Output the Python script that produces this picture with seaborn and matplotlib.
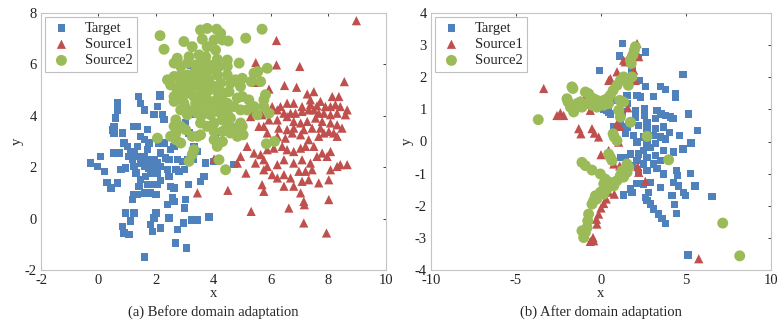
import numpy as np
import pandas as pd
import seaborn as sns
import matplotlib
matplotlib.use("Agg")
import matplotlib.pyplot as plt

# ---- (a) before domain adaptation ----
target_before = [
    (-0.27, 2.16), (0.08, 2.42), (-0.03, 2.03), (0.20, 1.84), (0.29, 1.41), (0.43, 1.19),
    (0.66, 1.39), (0.54, 2.55), (0.54, 3.59), (0.54, 3.33), (0.60, 3.91), (0.66, 4.23),
    (0.66, 4.53), (0.72, 2.55), (0.83, 3.33), (0.89, 2.94), (0.78, 1.90), (0.95, 0.22),
    (0.83, -0.30), (0.89, -0.56), (1.06, -0.62), (1.12, -0.10), (1.24, 0.22), (1.18, 0.74),
    (1.24, 0.93), (1.35, 0.93), (1.41, 1.26), (1.47, 1.51), (1.30, 1.77), (1.24, 2.03),
    (1.18, 2.29), (1.24, 2.55), (1.35, 2.81), (1.24, 3.59), (1.35, 3.59), (1.39, 4.75),
    (1.47, 4.49), (1.61, 4.23), (1.47, 3.20), (1.59, 3.07), (1.70, 3.46), (1.76, 2.94),
    (1.70, 2.68), (1.59, 2.42), (1.70, 2.29), (1.82, 2.16), (1.88, 2.03), (1.93, 2.29),
    (2.00, 2.10), (2.05, 1.97), (1.82, 1.77), (1.64, 1.64), (1.70, 1.32), (1.88, 1.32),
    (1.82, 1.00), (1.70, 1.00), (2.00, 0.93), (1.59, 1.00), (1.93, 4.04), (2.05, 4.36),
    (2.14, 4.75), (2.14, 4.82), (2.22, 4.04), (2.28, 3.85), (2.10, 2.94), (2.28, 2.94),
    (2.16, 2.55), (2.34, 2.36), (2.45, 2.29), (2.51, 2.68), (2.63, 2.81), (2.40, 1.90),
    (2.45, 1.64), (2.16, 1.48), (2.51, 1.26), (2.57, 0.80), (2.63, 0.67), (2.40, 0.54),
    (2.63, 1.19), (2.05, 1.32), (2.00, 0.22), (1.93, 0.03), (1.82, -0.23), (1.88, -0.49),
    (2.16, -0.36), (2.45, 0.03), (2.74, -0.43), (2.68, -0.95), (3.07, -1.14), (1.61, -1.49),
    (2.95, -0.17), (3.23, -0.06), (3.44, -0.06), (3.84, 0.06), (3.03, 0.74), (2.98, 0.41),
    (3.12, 1.32), (2.70, 1.90), (2.80, 1.84), (2.98, 1.90), (2.92, 2.23), (2.74, 2.29),
    (3.09, 2.29), (3.30, 2.29), (3.44, 2.61), (3.32, 2.81), (3.55, 1.45), (3.67, 1.64),
    (3.73, 2.16), (4.02, 2.23), (4.71, 2.10), (2.92, 5.00), (3.20, 5.98), (3.55, 3.97),
    (3.27, 4.04), (3.78, 4.10), (4.07, 3.20), (3.15, 3.33), (2.69, 3.65), (2.63, 3.20),
    (3.32, 3.20), (3.03, 3.72), (1.93, 2.03), (2.05, 2.16), (1.88, 1.90), (1.76, 1.97),
    (2.16, 2.03), (2.05, 1.77), (1.59, 2.03), (1.47, 2.16), (1.35, 2.42), (1.01, 2.81),
    (1.06, 2.42), (1.12, 2.61), (0.95, 1.97), (0.50, 3.45),
]

source1_before = [
    (8.97, 7.70), (6.19, 6.93), (5.47, 6.07), (6.19, 5.98), (7.00, 5.92), (8.55, 5.33),
    (6.47, 5.18), (5.93, 5.04), (6.89, 5.11), (7.26, 4.85), (7.49, 4.94), (7.37, 4.62),
    (8.13, 4.75), (8.36, 4.75), (6.56, 4.49), (6.33, 4.36), (6.04, 4.36), (6.79, 4.49),
    (7.08, 4.36), (7.37, 4.43), (7.60, 4.39), (7.72, 4.56), (7.89, 4.36), (8.07, 4.36),
    (8.24, 4.43), (8.41, 4.36), (8.65, 4.23), (8.59, 4.04), (8.30, 4.10), (8.07, 4.04),
    (7.84, 4.10), (7.66, 4.10), (7.49, 4.23), (7.31, 4.23), (7.08, 4.17), (6.85, 4.10),
    (6.68, 4.10), (6.45, 4.10), (6.22, 4.23), (5.87, 4.17), (5.69, 4.04), (5.41, 4.23),
    (5.29, 3.97), (5.93, 3.84), (6.22, 3.84), (6.56, 3.97), (6.79, 3.78), (7.03, 3.72),
    (7.26, 3.78), (7.55, 3.91), (7.78, 3.78), (8.07, 3.72), (8.30, 3.65), (8.47, 3.52),
    (7.72, 3.52), (7.43, 3.52), (7.14, 3.46), (6.79, 3.52), (6.56, 3.46), (6.27, 3.52),
    (5.75, 3.59), (5.58, 3.59), (5.87, 3.33), (6.22, 3.20), (6.50, 3.13), (6.74, 3.33),
    (7.03, 3.26), (7.31, 3.07), (7.66, 3.20), (7.84, 3.33), (8.01, 3.39), (8.18, 3.33),
    (8.30, 3.20), (7.49, 2.81), (7.20, 2.81), (7.03, 2.74), (6.79, 2.61), (6.56, 2.68),
    (6.39, 2.81), (6.10, 2.74), (5.87, 2.68), (5.64, 2.49), (5.41, 2.55), (5.17, 2.81),
    (4.94, 2.42), (4.83, 2.16), (5.46, 2.16), (5.75, 2.29), (5.87, 2.03), (6.22, 2.10),
    (6.45, 2.29), (6.79, 2.16), (7.08, 2.29), (7.37, 2.16), (7.60, 2.42), (7.78, 2.55),
    (7.95, 2.42), (8.07, 2.61), (8.41, 2.10), (8.65, 2.10), (8.30, 2.03), (8.07, 1.90),
    (7.43, 1.90), (7.20, 1.84), (6.97, 1.84), (6.68, 1.58), (6.45, 1.71), (6.22, 1.58),
    (6.04, 1.71), (5.75, 1.90), (5.13, 1.77), (3.44, 1.00), (4.50, 1.10), (5.31, 0.28),
    (5.69, 1.32), (5.75, 1.06), (6.45, 1.26), (6.79, 1.26), (7.08, 1.45), (7.31, 1.51),
    (7.66, 1.39), (8.01, 1.51), (7.03, 1.00), (6.62, 0.41), (7.14, 0.67), (7.16, 0.54),
    (8.01, 0.74), (7.14, -0.17), (7.93, -0.56), (4.02, 2.32), (5.46, 5.30),
]

source2_before = [
    (2.14, 7.12), (3.78, 7.40), (3.55, 7.34), (4.11, 7.37), (4.25, 7.21), (5.12, 7.02),
    (5.69, 7.37), (2.97, 6.89), (3.61, 6.98), (4.02, 6.95), (4.31, 6.95), (4.51, 6.91),
    (2.28, 6.59), (3.26, 6.69), (3.78, 6.69), (4.07, 6.56), (3.50, 6.37), (3.73, 6.30),
    (3.15, 6.30), (2.74, 6.24), (2.63, 6.05), (2.86, 5.92), (3.09, 6.05), (3.38, 5.98),
    (3.55, 5.98), (3.84, 5.98), (4.13, 6.20), (4.48, 6.17), (4.89, 6.05), (4.19, 5.92),
    (4.48, 5.92), (4.02, 5.79), (3.73, 5.66), (3.55, 5.72), (3.32, 5.66), (3.09, 5.59),
    (2.86, 5.59), (2.63, 5.53), (2.40, 5.40), (2.51, 5.20), (2.86, 5.27), (3.09, 5.33),
    (3.32, 5.40), (3.55, 5.40), (3.84, 5.40), (4.13, 5.59), (4.48, 5.59), (4.77, 5.40),
    (5.00, 5.46), (5.41, 5.66), (5.54, 5.72), (5.87, 5.85), (5.31, 5.33), (5.64, 5.33),
    (4.94, 5.14), (4.59, 5.27), (4.25, 5.27), (4.02, 5.14), (3.73, 5.07), (3.44, 5.14),
    (3.15, 5.07), (2.92, 5.14), (2.74, 5.01), (2.63, 4.75), (2.92, 4.75), (3.09, 4.88),
    (3.32, 4.75), (3.55, 4.82), (3.78, 4.94), (4.13, 4.94), (4.36, 4.88), (4.54, 4.94),
    (4.25, 4.62), (4.02, 4.56), (3.78, 4.62), (3.55, 4.62), (3.38, 4.49), (2.97, 4.49),
    (2.63, 4.56), (2.86, 4.23), (3.03, 4.30), (3.32, 4.23), (3.55, 4.30), (3.78, 4.23),
    (4.02, 4.36), (4.25, 4.36), (4.48, 4.49), (4.83, 4.69), (5.00, 4.75), (5.23, 4.62),
    (5.41, 4.36), (5.81, 4.82), (5.75, 4.62), (5.75, 4.36), (5.93, 4.10), (5.52, 4.04),
    (5.17, 4.23), (4.94, 4.23), (4.71, 4.36), (4.48, 4.10), (4.25, 4.10), (3.90, 4.04),
    (3.61, 4.04), (3.44, 4.10), (4.02, 3.72), (4.31, 3.84), (4.59, 3.91), (4.94, 3.72),
    (5.00, 3.59), (4.71, 3.52), (4.48, 3.59), (3.78, 3.59), (3.55, 3.72), (3.09, 4.04),
    (2.69, 3.84), (2.63, 3.59), (2.86, 3.59), (3.03, 3.46), (2.69, 3.33), (2.51, 3.20),
    (2.86, 2.94), (3.26, 3.20), (3.44, 3.20), (3.55, 3.26), (4.02, 3.39), (4.31, 3.39),
    (4.59, 3.33), (4.83, 3.20), (5.03, 3.26), (4.02, 3.07), (4.31, 3.00), (4.13, 2.81),
    (3.32, 2.68), (3.26, 2.49), (3.15, 2.23), (4.19, 2.29), (4.42, 1.90), (5.84, 2.91),
    (6.12, 3.00), (2.05, 3.13), (2.69, 3.07),
]

# ---- (b) after domain adaptation ----
target_after = [
    (1.27, 3.05), (1.10, 2.66), (2.63, 2.79), (2.22, 2.61), (-0.08, 2.20), (1.82, 2.20),
    (4.82, 2.08), (2.27, 1.90), (2.60, 1.72), (3.49, 1.72), (3.78, 1.61), (4.37, 1.49),
    (4.37, 1.39), (2.12, 1.44), (2.31, 1.39), (3.10, 1.41), (1.53, 1.44), (0.94, 1.28),
    (0.16, 0.99), (0.45, 0.92), (1.24, 0.92), (2.02, 0.97), (2.55, 1.02), (3.29, 0.97),
    (3.53, 0.86), (3.78, 0.81), (4.08, 0.76), (4.24, 0.71), (5.16, 0.86), (2.55, 0.81),
    (2.02, 0.76), (2.71, 0.60), (3.20, 0.71), (1.14, 0.55), (0.75, 0.47), (1.53, 0.45),
    (2.22, 0.50), (2.71, 0.40), (3.20, 0.40), (3.69, 0.45), (4.04, 0.29), (4.63, 0.19),
    (5.69, 0.34), (1.43, 0.24), (1.92, 0.19), (2.51, 0.14), (3.10, 0.19), (3.49, 0.14),
    (3.78, 0.08), (2.12, -0.02), (2.71, -0.07), (3.20, -0.07), (5.29, -0.05), (4.82, -0.23),
    (4.27, -0.33), (3.69, -0.28), (2.90, -0.18), (2.51, -0.28), (2.22, -0.39), (1.73, -0.39),
    (1.43, -0.49), (1.14, -0.49), (2.71, -0.49), (3.20, -0.44), (3.49, -0.59), (3.10, -0.70),
    (2.51, -0.70), (2.12, -0.59), (1.82, -0.75), (2.71, -0.91), (3.29, -0.85), (3.69, -1.01),
    (4.43, -0.91), (4.51, -1.06), (5.25, -0.99), (2.22, -0.96), (2.12, -1.30), (2.51, -1.32),
    (2.90, -1.27), (3.49, -1.43), (4.27, -1.27), (4.57, -1.38), (4.86, -1.58), (4.96, -1.69),
    (5.53, -1.38), (6.53, -1.71), (4.18, -1.69), (4.31, -1.97), (4.43, -2.24), (2.80, -1.58),
    (2.60, -1.74), (2.71, -1.84), (2.90, -1.95), (3.10, -2.10), (3.39, -2.26), (3.59, -2.39),
    (3.78, -2.55), (1.82, -1.58), (1.33, -1.66), (1.73, -1.48), (5.12, -3.53), (1.57, 1.18),
    (0.55, 0.86), (0.35, 0.97),
]

source1_after = [
    (2.12, 3.05), (1.88, 2.90), (1.73, 2.74), (1.33, 2.53), (1.43, 2.48), (2.22, 2.64),
    (1.92, 2.22), (0.94, 2.17), (0.55, 1.96), (0.45, 1.90), (2.02, 1.90), (-3.37, 1.65),
    (-0.92, 1.39), (-1.22, 1.28), (-1.71, 1.13), (-2.39, 0.89), (-2.59, 0.81), (-2.20, 0.81),
    (1.57, 1.05), (-1.31, 0.40), (-1.18, 0.24), (-0.53, 0.40), (-0.39, 0.26), (-0.14, 0.14),
    (0.94, 0.55), (1.10, 0.47), (1.04, -0.02), (0.45, -0.28), (0.00, -0.41), (0.75, -0.70),
    (1.10, -0.76), (2.16, -0.78), (2.22, -0.96), (2.61, -1.24), (0.78, -1.64), (0.45, -1.58),
    (0.31, -1.79), (0.16, -1.93), (0.00, -2.07), (-0.14, -2.26), (-0.27, -2.42), (-0.24, -2.57),
    (-0.47, -2.99), (-0.43, -3.09), (-0.63, -3.11), (5.75, -3.65), (1.33, 2.01), (-0.63, 0.97),
    (0.20, 1.30), (-0.30, 1.20),
]

source2_after = [
    (-1.71, 1.70), (-1.65, 1.65), (-2.00, 1.33), (-1.94, 1.23), (-1.80, 1.07), (-1.61, 0.92),
    (-1.41, 1.18), (-1.22, 1.23), (-0.92, 1.54), (-0.73, 1.49), (-0.63, 1.39), (-0.43, 1.33),
    (-0.24, 1.28), (-0.04, 1.23), (0.16, 1.28), (0.35, 1.33), (0.55, 1.44), (0.71, 1.59),
    (0.94, 1.75), (1.14, 1.90), (1.33, 2.01), (1.57, 1.93), (1.82, 2.01), (1.61, 1.75),
    (1.73, 2.53), (1.88, 2.69), (1.96, 2.84), (2.02, 2.95), (1.78, 2.43), (-0.82, 1.18),
    (-1.12, 1.07), (-0.53, 1.13), (-0.24, 1.07), (0.16, 1.13), (0.45, 1.18), (-0.63, 1.28),
    (-3.69, 0.68), (1.10, 1.28), (1.33, 1.23), (1.04, 0.97), (1.14, 0.76), (1.73, 0.60),
    (2.71, 0.16), (0.71, 0.24), (0.78, 0.14), (0.94, 0.03), (0.45, -0.39), (0.55, -0.49),
    (0.65, -0.59), (3.98, -0.57), (-1.12, -0.65), (-0.92, -0.75), (-0.53, -0.89), (-0.04, -1.01),
    (0.25, -1.17), (0.16, -1.32), (0.55, -1.27), (0.94, -1.22), (1.33, -1.11), (1.53, -0.96),
    (1.63, -0.80), (1.53, -0.70), (1.24, -0.91), (1.14, -1.06), (0.75, -1.38), (0.35, -1.48),
    (-0.04, -1.58), (-0.33, -1.69), (-0.43, -1.84), (-0.53, -1.95), (-0.24, -1.79), (0.16, -1.64),
    (-0.73, -2.26), (-0.78, -2.47), (-0.82, -2.68), (-1.12, -2.78), (-1.02, -2.99), (-0.92, -2.83),
    (7.16, -2.54), (8.16, -3.56),
]

labels = ["Target", "Source1", "Source2"]
colors = {"Target": "#4F81BD", "Source1": "#C0504D", "Source2": "#9BBB59"}
markers = {"Target": "s", "Source1": "^", "Source2": "o"}
msizes = {"Target": 28, "Source1": 44, "Source2": 62}


def to_frame(groups):
    rows = []
    for name, pts in zip(labels, groups):
        for x, y in pts:
            rows.append({"x": x, "y": y, "set": name})
    return pd.DataFrame(rows)


df_a = to_frame([target_before, source1_before, source2_before])
df_b = to_frame([target_after, source1_after, source2_after])

sns.set_style("white")
plt.rcParams["font.family"] = ["Liberation Serif", "DejaVu Serif"]
plt.rcParams["axes.unicode_minus"] = False

fig = plt.figure(figsize=(7.8, 3.24), dpi=100)
ax1 = fig.add_axes([41 / 780, 1 - 270 / 324, 345 / 780, 257 / 324])
ax2 = fig.add_axes([431 / 780, 1 - 270 / 324, 340 / 780, 257 / 324])


def draw(ax, df, xlim, ylim, xticks, yticks, caption):
    for name in labels:
        sub = df[df["set"] == name]
        sns.scatterplot(data=sub, x="x", y="y", ax=ax, color=colors[name],
                        marker=markers[name], s=msizes[name], edgecolor="none",
                        label=name)
    ax.set_xlim(*xlim)
    ax.set_ylim(*ylim)
    ax.set_xticks(xticks)
    ax.set_yticks(yticks)
    ax.tick_params(direction="in", length=2, width=0.6, top=True, right=True,
                   labelsize=10.5, colors="#222222", pad=3)
    for sp in ax.spines.values():
        sp.set_color("#c4c4c4")
        sp.set_linewidth(0.8)
    ax.set_xlabel("x", fontsize=10.5, labelpad=0)
    ax.set_ylabel("y", fontsize=10.5, labelpad=1)
    ax.text(0.5, -0.163, caption, transform=ax.transAxes, ha="center",
            va="center", fontsize=10.5)
    leg = ax.legend(loc="upper left", fontsize=10.5, frameon=True, fancybox=False,
                    borderaxespad=0.3, labelspacing=0.2, handletextpad=0.8,
                    borderpad=0.3, handlelength=1.6)
    leg.get_frame().set_edgecolor("#b0b0b0")
    leg.get_frame().set_linewidth(0.8)


draw(ax1, df_a, (-2, 10), (-2, 8), range(-2, 11, 2), range(-2, 9, 2),
     "(a) Before domain adaptation")
draw(ax2, df_b, (-10, 10), (-4, 4), range(-10, 11, 5), range(-4, 5, 1),
     "(b) After domain adaptation")

fig.savefig("out.png", dpi=100)
